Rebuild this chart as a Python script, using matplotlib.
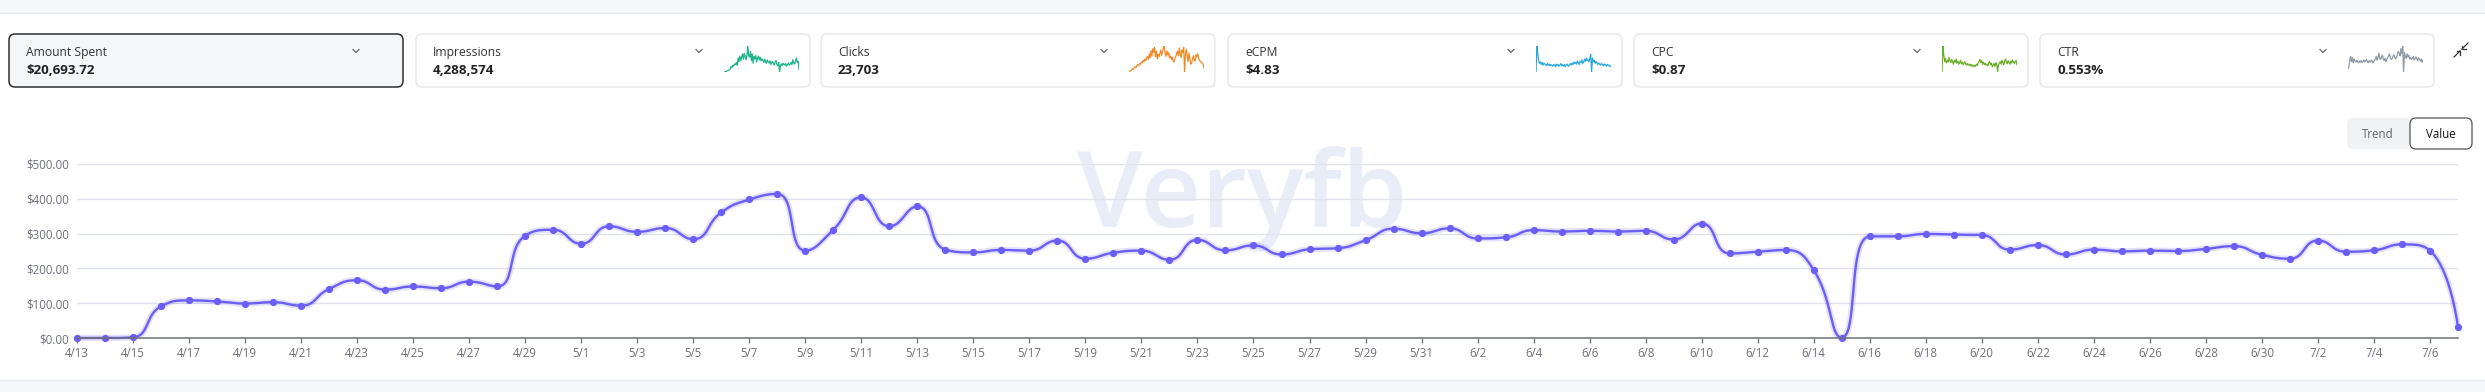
import math
import datetime as dt
import numpy as np
import matplotlib
matplotlib.use("Agg")
import matplotlib.pyplot as plt
from matplotlib.patches import FancyBboxPatch, Rectangle

plt.rcParams["font.family"] = ["Open Sans", "DejaVu Sans"]

W, H = 2485, 392

# daily amount spent, 4/13 .. 7/7
spend = [0, 0, 2, 91, 108, 105, 99, 103, 93, 141, 166, 139, 148, 143, 162, 148, 294, 311,
         271, 321, 305, 316, 284, 361, 398, 414, 251, 311, 404, 321, 378, 254, 246, 253,
         251, 280, 228, 245, 251, 225, 282, 252, 266, 240, 255, 258, 281, 314, 301,
         315, 286, 289, 310, 306, 308, 306, 308, 283, 329, 243, 248, 253, 195, 1, 292,
         292, 299, 297, 296, 254, 267, 240, 254, 249, 251, 250, 256, 264, 239,
         228, 280, 248, 252, 269, 251, 31]
first_day = dt.date(2024, 4, 13)
days = [first_day + dt.timedelta(days=i) for i in range(len(spend))]
day_labels = [f"{d.month}/{d.day}" for d in days]

y_ticks = [0, 100, 200, 300, 400, 500]

card_titles = ["Amount Spent", "Impressions", "Clicks", "eCPM", "CPC", "CTR"]
card_values = ["$20,693.72", "4,288,574", "23,703", "$4.83", "$0.87", "0.553%"]

# sparkline shapes (relative heights)
spark_impr = [2, 3, 4, 5, 7, 8, 10, 12, 22, 18, 28, 24, 32, 30, 38, 28, 55, 40, 62, 45, 58,
              70, 50, 72, 60, 48, 66, 100, 62, 58, 80, 45, 70, 35, 60, 52, 64, 40, 55, 62, 48,
              58, 44, 52, 46, 38, 50, 42, 35, 48, 40, 36, 44, 30, 38, 42, 34, 28, 40, 45, 30,
              25, 38, 2, 28, 32, 26, 35, 30, 28, 34, 24, 30, 36, 28, 32, 38, 30, 48, 35, 32,
              42, 55, 38, 42, 12]
spark_clicks = [2, 3, 5, 8, 12, 10, 16, 20, 18, 25, 28, 24, 32, 30, 38, 35, 45, 40, 50, 44, 55,
                60, 48, 70, 55, 82, 62, 90, 75, 95, 60, 80, 50, 68, 58, 72, 85, 64, 78, 92, 100,
                70, 60, 82, 66, 74, 55, 62, 48, 58, 45, 38, 52, 60, 70, 80, 62, 92, 70, 55, 85,
                75, 95, 0, 70, 88, 60, 40, 72, 55, 30, 35, 50, 62, 48, 42, 65, 58, 70, 52, 45,
                40, 38, 35, 30, 15]
spark_ecpm = [2, 100, 72, 45, 35, 40, 30, 38, 28, 35, 32, 30, 26, 34, 28, 32, 25, 30, 27, 24, 30,
              28, 22, 32, 26, 30, 24, 28, 34, 26, 30, 24, 30, 22, 28, 32, 26, 24, 30, 34, 28,
              36, 30, 40, 34, 38, 32, 44, 36, 30, 42, 38, 48, 34, 40, 50, 42, 55, 45, 48, 40,
              52, 68, 2, 55, 40, 46, 35, 42, 38, 30, 36, 32, 28, 34, 30, 26, 32, 28, 30, 24,
              30, 26, 28, 22, 24]
spark_cpc = [0, 100, 65, 40, 52, 35, 45, 38, 55, 42, 36, 48, 40, 30, 44, 38, 50, 34, 42, 30, 36,
             45, 32, 38, 28, 34, 40, 30, 26, 33, 28, 25, 30, 22, 28, 24, 20, 26, 22, 30, 25,
             34, 40, 48, 36, 44, 30, 38, 28, 34, 26, 30, 24, 36, 40, 28, 34, 20, 26, 32, 22,
             36, 30, 2, 28, 34, 40, 30, 45, 36, 28, 42, 50, 38, 32, 44, 36, 30, 42, 35, 46,
             38, 32, 40, 44, 28]
spark_ctr = [12, 20, 45, 60, 40, 55, 35, 50, 42, 38, 45, 40, 35, 42, 38, 44, 36, 40, 46, 38, 42,
             48, 40, 36, 44, 38, 42, 46, 35, 40, 44, 50, 60, 45, 55, 72, 52, 48, 58, 64, 50,
             44, 52, 40, 48, 56, 62, 70, 55, 48, 52, 60, 66, 58, 50, 56, 68, 80, 72, 62, 90,
             70, 100, 0, 75, 60, 52, 70, 58, 64, 50, 56, 48, 54, 60, 46, 52, 58, 50, 44, 55,
             48, 42, 50, 38, 45]
sparks = [None, spark_impr, spark_clicks, spark_ecpm, spark_cpc, spark_ctr]
spark_colors = [None, "#1db38b", "#f08a24", "#2ba7e0", "#6aae27", "#8d9aa6"]

LINE = "#6b5ef5"


def echarts_smooth(px, py, smooth=0.5, steps=24):
    """cubic bezier path like echarts smooth line with smoothConstraint"""
    n = len(px)
    out_x, out_y = [px[0]], [py[0]]
    c0x, c0y = px[0], py[0]
    t = np.linspace(0, 1, steps)[1:]
    for i in range(1, n):
        x, y = px[i], py[i]
        if i < n - 1:
            ax_, ay_ = px[i - 1], py[i - 1]
            bx, by = px[i + 1], py[i + 1]
            vx, vy = bx - ax_, by - ay_
            lp = math.hypot(x - ax_, y - ay_)
            ln = math.hypot(bx - x, by - y)
            r = ln / (ln + lp)
            nx = x + vx * smooth * r
            ny = y + vy * smooth * r
            nx = min(max(nx, min(bx, x)), max(bx, x))
            ny = min(max(ny, min(by, y)), max(by, y))
            vx, vy = nx - x, ny - y
            c1x = x - vx * lp / ln
            c1y = y - vy * lp / ln
            c1x = min(max(c1x, min(ax_, x)), max(ax_, x))
            c1y = min(max(c1y, min(ay_, y)), max(ay_, y))
            vx, vy = x - c1x, y - c1y
            nx = x + vx * ln / lp
            ny = y + vy * ln / lp
        else:
            c1x, c1y = x, y
            nx, ny = x, y
        p0x, p0y = px[i - 1], py[i - 1]
        bxs = (1 - t) ** 3 * p0x + 3 * (1 - t) ** 2 * t * c0x + 3 * (1 - t) * t ** 2 * c1x + t ** 3 * x
        bys = (1 - t) ** 3 * p0y + 3 * (1 - t) ** 2 * t * c0y + 3 * (1 - t) * t ** 2 * c1y + t ** 3 * y
        out_x.extend(bxs)
        out_y.extend(bys)
        c0x, c0y = nx, ny
    return np.array(out_x), np.array(out_y)


fig = plt.figure(figsize=(W / 100, H / 100), dpi=100)
fig.patch.set_facecolor("white")

bg = fig.add_axes([0, 0, 1, 1])
bg.set_xlim(0, W)
bg.set_ylim(H, 0)
bg.axis("off")

# page bands
bg.add_patch(Rectangle((0, 0), W, 13, color="#f6f7f9", lw=0))
bg.plot([0, W], [13, 13], color="#e6e7ea", lw=1)
bg.add_patch(Rectangle((0, 380), W, 12, color="#f6f7f9", lw=0))
bg.plot([0, W], [380, 380], color="#e6e7ea", lw=1)

# metric cards
card_lefts = [9, 416, 821, 1228, 1634, 2040]
card_w, card_top, card_h = 394, 34, 53
for k, left in enumerate(card_lefts):
    selected = k == 0
    bg.add_patch(FancyBboxPatch((left, card_top), card_w, card_h,
                                boxstyle="round,pad=0,rounding_size=6",
                                fc="#f5f6f8" if selected else "white",
                                ec="#2e2e2e" if selected else "#e3e4e7",
                                lw=1.1 if selected else 0.9))
    bg.text(left + 17, 52, card_titles[k], fontsize=8.7, color="#333333", va="center")
    bg.text(left + 17, 70, card_values[k], fontsize=9.6, fontweight="bold", color="#222222",
            va="center")
    cx = left + (347 if sparks[k] is None else 283)
    bg.plot([cx - 3, cx, cx + 3], [49.5, 52.5, 49.5], color="#555555", lw=0.8)
    if sparks[k] is not None:
        sp = fig.add_axes([(left + 308) / W, (H - 72) / H, 75 / W, 26 / H])
        vals = sparks[k]
        sp.plot(range(len(vals)), vals, color=spark_colors[k], lw=0.9)
        sp.set_xlim(0, len(vals) - 1)
        sp.set_ylim(min(vals), max(vals))
        sp.axis("off")

# collapse icon: two arrows pointing inward
for (sx0, sy0, ex, ey, d) in [(2468, 43, 2462, 49, 1), (2454, 57, 2460, 51, -1)]:
    bg.plot([sx0, ex], [sy0, ey], color="#333333", lw=0.9)
    bg.plot([ex, ex, ex + 3.5 * d], [ey - 3.5 * d, ey, ey], color="#333333", lw=0.9)

# trend / value toggle
bg.add_patch(FancyBboxPatch((2347, 118), 125, 31, boxstyle="round,pad=0,rounding_size=6",
                            fc="#f1f2f4", ec="none"))
bg.add_patch(FancyBboxPatch((2410, 118), 62, 31, boxstyle="round,pad=0,rounding_size=6",
                            fc="white", ec="#555555", lw=0.9))
bg.text(2378, 134, "Trend", fontsize=8.3, color="#666666", ha="center", va="center")
bg.text(2441, 134, "Value", fontsize=8.3, color="#111111", ha="center", va="center")

# watermark
bg.text(1242, 227, "Veryfb", fontsize=76, fontweight="semibold", color="#e9edf8",
        ha="center", va="baseline", zorder=0)

# main chart
x0, x1, ytop, ybot = 77, 2458, 164, 338
ax = fig.add_axes([x0 / W, (H - ybot) / H, (x1 - x0) / W, (ybot - ytop) / H])
ax.patch.set_alpha(0)
n = len(spend)
ax.set_xlim(0, n - 1)
ax.set_ylim(0, 500)

sx = (x1 - x0) / (n - 1)
sy = (ybot - ytop) / 500
cx_, cy_ = echarts_smooth([i * sx for i in range(n)], [v * sy for v in spend])
ax.plot(cx_ / sx, cy_ / sy, color=LINE, lw=4.5, alpha=0.18, clip_on=False,
        solid_capstyle="round")
ax.plot(cx_ / sx, cy_ / sy, color=LINE, lw=1.7, clip_on=False, solid_capstyle="round")
ax.plot(range(n), spend, "o", color=LINE, ms=4.2, clip_on=False)

for s in ["top", "right", "left"]:
    ax.spines[s].set_visible(False)
ax.spines["bottom"].set_color("#6e7079")
ax.spines["bottom"].set_linewidth(1.1)

ax.set_yticks(y_ticks)
ax.set_yticklabels([f"${v:,.2f}" for v in y_ticks])
ax.grid(axis="y", color="#e0e3ea", lw=1)
ax.set_axisbelow(True)
tick_idx = list(range(0, n, 2))
ax.set_xticks(tick_idx)
ax.set_xticklabels([day_labels[i] for i in tick_idx])
ax.tick_params(axis="y", length=0, pad=6, labelsize=8.3, labelcolor="#6e7079")
ax.tick_params(axis="x", length=3.5, width=0.9, color="#6e7079", pad=3, labelsize=8.3,
               labelcolor="#6e7079")

fig.savefig("out.png", dpi=100)
